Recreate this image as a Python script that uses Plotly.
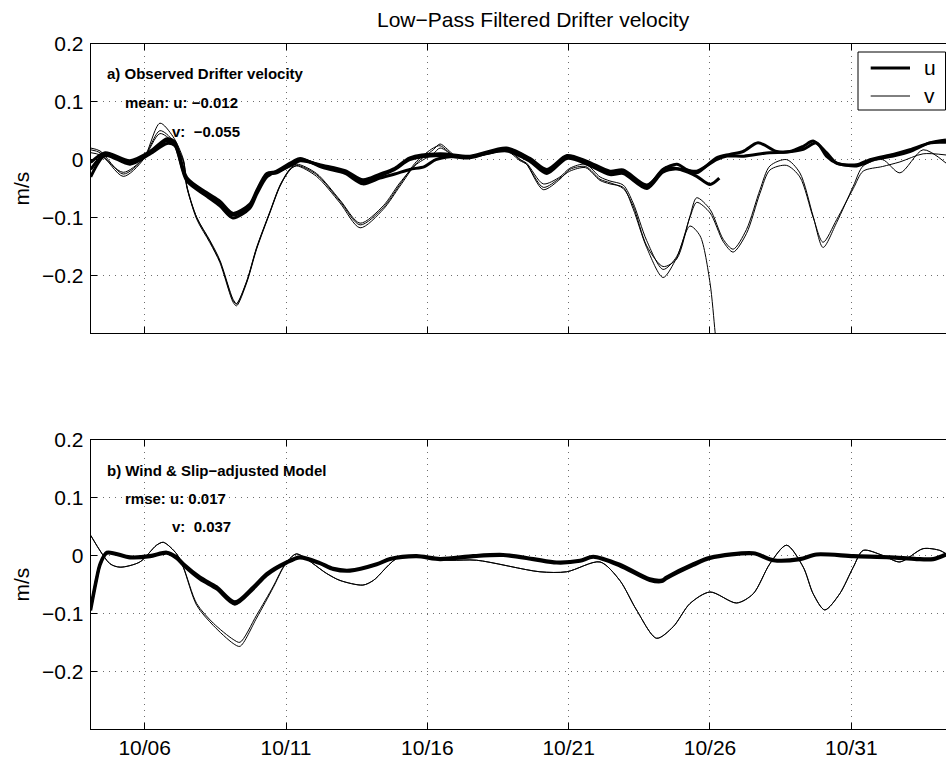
import pandas as pd
import plotly.graph_objects as go

# ---------------- data (day of October, velocity m/s) ----------------
# Panel a) observed drifters (three drifters, C stops on 10/26)
obs_uA_day = [4.09, 4.6, 5.48, 6.19, 6.79, 7.07, 7.49, 8.19, 8.66, 9.12, 9.72, 9.96, 10.32, 10.67, 11.26, 11.5,
              12.31, 13.09, 13.72, 14.32, 14.85, 15.38, 16.45, 17.51, 18.8, 19.63, 20.23, 20.94, 21.65, 22.46,
              22.93, 23.77, 24.33, 24.83, 25.2, 25.53, 26.23, 26.7, 27.17, 27.7, 28.36, 28.83, 29.3, 29.65,
              30.12, 30.48, 31.19, 31.66, 32.48, 33.07, 33.78, 34.35]
obs_uA = [-0.017, 0.009, -0.005, 0.012, 0.033, 0.026, -0.034, -0.06, -0.075, -0.096, -0.08, -0.057, -0.026, -0.023,
          -0.006, 0.0, -0.012, -0.021, -0.038, -0.028, -0.017, 0.0, 0.007, 0.003, 0.019, 0.0, -0.02, 0.005, -0.005,
          -0.022, -0.02, -0.046, -0.017, -0.008, -0.018, -0.023, 0.003, 0.009, 0.014, 0.029, 0.014, 0.014, 0.023,
          0.032, 0.012, -0.006, -0.009, 0.0, 0.009, 0.017, 0.029, 0.034]

obs_uB_day = [4.09, 4.6, 5.48, 6.19, 6.79, 7.07, 7.49, 8.19, 8.66, 9.12, 9.72, 9.96, 10.32, 10.67, 11.26, 11.5,
              12.31, 13.09, 13.72, 14.32, 14.85, 15.38, 15.9, 16.3, 16.8, 17.51, 18.8, 19.63, 20.23, 20.94, 21.65,
              22.46, 22.93, 23.77, 24.33, 24.83, 25.53, 26.23, 26.6, 27.2, 28.1, 28.7, 29.3, 29.77, 30.12, 30.48,
              31.19, 31.8, 32.48, 33.07, 33.78, 34.35]
obs_uB = [-0.03, 0.007, -0.008, 0.01, 0.028, 0.024, -0.037, -0.063, -0.08, -0.101, -0.084, -0.06, -0.03, -0.02,
          -0.003, 0.002, -0.014, -0.024, -0.042, -0.032, -0.025, -0.017, -0.012, 0.0, 0.005, 0.005, 0.015, -0.003,
          -0.024, 0.002, -0.008, -0.026, -0.024, -0.05, -0.022, -0.016, -0.02, 0.0, 0.006, 0.006, 0.012, 0.013,
          0.018, 0.029, 0.006, -0.006, -0.011, 0.0, 0.006, 0.014, 0.029, 0.03]

obs_uC_day = [4.09, 4.6, 5.48, 6.19, 6.79, 7.07, 7.49, 8.19, 8.66, 9.12, 9.72, 9.96, 10.32, 10.67, 11.26, 11.5,
              12.31, 13.09, 13.72, 14.32, 14.85, 15.38, 16.45, 17.51, 18.8, 19.63, 20.23, 20.94, 21.65, 22.46,
              22.93, 23.77, 24.46, 25.0, 25.53, 26.0, 26.33]
obs_uC = [-0.005, 0.012, -0.002, 0.014, 0.036, 0.03, -0.031, -0.057, -0.072, -0.093, -0.077, -0.054, -0.024,
          -0.021, -0.008, -0.002, -0.01, -0.019, -0.035, -0.025, -0.015, 0.003, 0.01, 0.006, 0.02, 0.002, -0.017,
          0.007, -0.003, -0.02, -0.018, -0.044, -0.014, -0.018, -0.029, -0.043, -0.032]

obs_v_day = [4.09, 4.42, 5.24, 5.95, 6.54, 7.0, 7.37, 7.49, 7.84, 8.31, 8.66, 9.13, 9.25, 9.61, 9.96, 10.43,
             10.79, 11.14, 11.38, 12.08, 12.91, 13.62, 14.44, 15.03, 15.62, 16.21, 16.45, 17.04, 18.21, 18.81,
             19.28, 19.51, 20.10, 20.69, 21.04, 21.6, 22.11, 22.46, 22.93, 23.28, 23.76, 24.34, 24.82, 25.29,
             25.53, 26.0, 26.47, 26.82, 27.29, 27.77, 28.12, 28.71, 29.18, 29.65, 30.0, 30.48, 31.07, 31.42,
             32.1, 32.72, 33.54, 34.35]
obs_vA = [0.017, 0.012, -0.029, 0.0, 0.063, 0.04, 0.0, -0.046, -0.103, -0.144, -0.178, -0.247, -0.253, -0.213,
          -0.155, -0.092, -0.046, -0.017, -0.011, -0.029, -0.075, -0.118, -0.086, -0.046, -0.006, 0.017, 0.027,
          0.006, 0.012, 0.02, 0.0, -0.008, -0.052, -0.034, -0.017, -0.012, -0.034, -0.04, -0.05, -0.08, -0.149,
          -0.185, -0.172, -0.098, -0.066, -0.086, -0.138, -0.155, -0.121, -0.052, -0.011, 0.0, -0.023, -0.098,
          -0.152, -0.109, -0.046, -0.011, 0.0, -0.023, 0.017, -0.006]
obs_vB = [0.012, 0.008, -0.022, 0.002, 0.05, 0.033, -0.004, -0.048, -0.1, -0.14, -0.174, -0.242, -0.249, -0.21,
          -0.152, -0.09, -0.044, -0.016, -0.008, -0.024, -0.07, -0.11, -0.08, -0.04, -0.008, 0.01, 0.02, 0.005,
          0.01, 0.017, 0.0, -0.006, -0.042, -0.03, -0.015, -0.008, -0.03, -0.037, -0.044, -0.075, -0.14, -0.19,
          -0.168, -0.1, -0.074, -0.092, -0.142, -0.16, -0.128, -0.058, -0.018, -0.01, -0.03, -0.1, -0.143,
          -0.104, -0.05, -0.02, -0.012, -0.004, 0.01, 0.008]

obs_vC_day = [4.09, 4.42, 5.24, 5.95, 6.54, 7.0, 7.37, 7.49, 7.84, 8.31, 8.66, 9.13, 9.25, 9.61, 9.96, 10.43,
              10.79, 11.14, 11.38, 12.08, 12.91, 13.62, 14.44, 15.03, 15.62, 16.21, 16.45, 17.04, 18.21, 18.81,
              19.28, 19.51, 20.10, 20.69, 21.04, 21.6, 22.11, 22.46, 22.93, 23.28, 23.76, 24.34, 24.82, 25.29,
              25.65, 26.0, 26.18, 26.25]
obs_vC = [0.02, 0.015, -0.025, 0.001, 0.045, 0.03, -0.002, -0.045, -0.1, -0.142, -0.176, -0.244, -0.25, -0.211,
          -0.153, -0.091, -0.045, -0.018, -0.01, -0.026, -0.072, -0.113, -0.083, -0.043, -0.003, 0.02, 0.024,
          0.004, 0.011, 0.015, -0.002, -0.008, -0.048, -0.032, -0.02, -0.014, -0.036, -0.042, -0.048, -0.085,
          -0.152, -0.204, -0.17, -0.115, -0.132, -0.213, -0.298, -0.33]

# Panel b) wind & slip-adjusted model
mod_u_day = [4.09, 4.30, 4.42, 4.66, 5.48, 6.19, 6.78, 7.13, 7.37, 7.96, 8.55, 9.19, 9.84, 10.32, 11.02, 11.49,
             12.2, 12.67, 13.26, 14.21, 14.68, 15.62, 16.45, 17.62, 18.68, 19.75, 20.57, 21.40, 21.87, 22.81,
             23.87, 24.3, 24.46, 25.41, 26.0, 27.53, 28.24, 29.18, 29.77, 31.07, 32.37, 33.31, 33.9, 34.35]
mod_uA = [-0.089, -0.037, -0.014, 0.006, -0.002, 0.0, 0.006, -0.002, -0.014, -0.037, -0.054, -0.08, -0.054,
          -0.031, -0.011, -0.002, -0.012, -0.022, -0.025, -0.014, -0.005, 0.0, -0.005, 0.0, 0.002, -0.005,
          -0.011, -0.008, -0.001, -0.015, -0.04, -0.042, -0.037, -0.014, -0.003, 0.005, -0.007, -0.005, 0.003,
          0.0, -0.002, -0.005, -0.005, 0.003]
mod_uB = [-0.095, -0.042, -0.017, 0.004, -0.004, -0.002, 0.004, -0.005, -0.017, -0.041, -0.058, -0.084, -0.058,
          -0.034, -0.013, -0.004, -0.014, -0.024, -0.027, -0.016, -0.007, -0.002, -0.007, -0.002, 0.0, -0.007,
          -0.013, -0.01, -0.003, -0.018, -0.043, -0.045, -0.04, -0.017, -0.005, 0.003, -0.009, -0.007, 0.001,
          -0.002, -0.004, -0.007, -0.007, 0.001]

mod_v_day = [4.09, 4.77, 5.13, 5.83, 6.42, 6.66, 7.13, 7.37, 7.84, 8.43, 9.13, 9.37, 9.96, 10.55, 10.90, 11.14,
             11.38, 12.44, 12.91, 13.72, 14.09, 15.03, 16.80, 17.74, 19.98, 20.93, 22.11, 22.81, 23.40, 24.11,
             24.70, 25.29, 26.0, 26.94, 27.53, 28.12, 28.71, 29.30, 29.65, 30.06, 30.59, 31.07, 31.42, 32.13,
             32.72, 33.54, 34.13, 34.35]
mod_vA = [0.035, -0.014, -0.02, -0.011, 0.018, 0.023, 0.003, -0.02, -0.083, -0.117, -0.145, -0.15, -0.103, -0.053,
          -0.02, -0.005, 0.003, -0.031, -0.043, -0.051, -0.043, -0.002, -0.008, -0.008, -0.028, -0.028, -0.011,
          -0.043, -0.094, -0.143, -0.123, -0.083, -0.063, -0.082, -0.066, -0.014, 0.018, -0.02, -0.066, -0.094,
          -0.066, -0.02, 0.009, 0.0, -0.011, 0.012, 0.009, 0.003]
mod_vB = [0.035, -0.014, -0.02, -0.011, 0.018, 0.023, 0.003, -0.021, -0.086, -0.121, -0.152, -0.157, -0.108,
          -0.055, -0.021, -0.005, 0.003, -0.031, -0.043, -0.051, -0.043, -0.002, -0.008, -0.008, -0.028, -0.028,
          -0.011, -0.043, -0.094, -0.143, -0.123, -0.083, -0.063, -0.082, -0.066, -0.014, 0.018, -0.02, -0.066,
          -0.094, -0.066, -0.02, 0.009, 0.0, -0.011, 0.012, 0.009, 0.003]

x_range_days = [4.09, 34.35]
x_tick_days = [6, 11, 16, 21, 26, 31]
y_ticks = [-0.2, -0.1, 0.0, 0.1, 0.2]
y_tick_text = ["\u22120.2", "\u22120.1", "0", "0.1", "0.2"]
y_range = [-0.3, 0.2]
legend_labels = ["u", "v"]

# ---------------- helpers ----------------
BASE = pd.Timestamp("2004-09-30")


def to_dt(days):
    return [BASE + pd.Timedelta(days=d) for d in days]


W, H = 946, 763


def px(x):
    return x / W


def py(y):
    return 1 - y / H


FONT = "Liberation Sans, Helvetica, Arial, sans-serif"
THICK, THIN = 3, 1
TICKSIZE = 21

fig = go.Figure()


def add_line(days, vals, width, xa, ya, name=None):
    fig.add_trace(go.Scatter(
        x=to_dt(days), y=vals, mode="lines", xaxis=xa, yaxis=ya,
        line=dict(color="black", width=width, shape="spline", smoothing=0.8),
        name=name, showlegend=False, hoverinfo="skip"))


# Panel a
add_line(obs_v_day, obs_vA, THIN, "x", "y", "v")
add_line(obs_v_day, obs_vB, THIN, "x", "y", "v")
add_line(obs_vC_day, obs_vC, THIN, "x", "y", "v")
add_line(obs_uA_day, obs_uA, THICK, "x", "y", "u")
add_line(obs_uB_day, obs_uB, THICK, "x", "y", "u")
add_line(obs_uC_day, obs_uC, THICK, "x", "y", "u")
# Panel b
add_line(mod_v_day, mod_vA, THIN, "x2", "y2", "v")
add_line(mod_v_day, mod_vB, THIN, "x2", "y2", "v")
add_line(mod_u_day, mod_uA, THICK, "x2", "y2", "u")
add_line(mod_u_day, mod_uB, THICK, "x2", "y2", "u")

xdom = [px(90.7), 1.0]
ydom_top = [py(333), py(44)]
ydom_bot = [py(729), py(440)]

common_x = dict(
    range=to_dt(x_range_days), tickvals=to_dt(x_tick_days), tickformat="%m/%d",
    showgrid=True, gridcolor="#6e6e6e", griddash="1px,5px", gridwidth=1,
    showline=True, linecolor="black", linewidth=1, mirror="ticks",
    ticks="inside", ticklen=6, tickcolor="black", zeroline=False,
    tickfont=dict(family=FONT, size=TICKSIZE, color="black"), domain=xdom,
)
common_y = dict(
    range=y_range, tickvals=y_ticks, ticktext=y_tick_text,
    showgrid=True, gridcolor="#6e6e6e", griddash="1px,5px", gridwidth=1,
    showline=True, linecolor="black", linewidth=1, mirror=False,
    ticks="inside", ticklen=6, tickcolor="black", zeroline=False,
    tickfont=dict(family=FONT, size=TICKSIZE, color="black"), ticklabelstandoff=2,
)

annots = [
    dict(text="Low\u2212Pass Filtered Drifter velocity", x=px(692), y=py(19), size=21, bold=False, anchor="right"),
    dict(text="a) Observed Drifter velocity", x=px(105), y=py(74), size=15, bold=True, anchor="left"),
    dict(text="mean: u: \u22120.012", x=px(122.7), y=py(102.7), size=15, bold=True, anchor="left"),
    dict(text="v:\u00a0\u00a0\u22120.055", x=px(170), y=py(131.7), size=15, bold=True, anchor="left"),
    dict(text="b) Wind &amp; Slip\u2212adjusted Model", x=px(105), y=py(470), size=15, bold=True, anchor="left"),
    dict(text="rmse: u: 0.017", x=px(122.7), y=py(498.3), size=15, bold=True, anchor="left"),
    dict(text="v:\u00a0\u00a00.037", x=px(170), y=py(526.7), size=15, bold=True, anchor="left"),
]
annotations = []
for a in annots:
    t = f"<b>{a['text']}</b>" if a["bold"] else a["text"]
    annotations.append(dict(text=t, x=a["x"], y=a["y"], xref="paper", yref="paper",
                            xanchor=a["anchor"], yanchor="middle", showarrow=False,
                            font=dict(family=FONT, size=a["size"], color="black")))
for yc in (188.5, 584.5):
    annotations.append(dict(text="m/s", x=px(21), y=py(yc), xref="paper", yref="paper",
                            xanchor="center", yanchor="middle", textangle=-90, showarrow=False,
                            font=dict(family=FONT, size=TICKSIZE, color="black")))

# legend box (MATLAB style, clipped by the right edge of the figure)
shapes = [dict(type="rect", xref="paper", yref="paper", x0=px(858), x1=px(945.5), y0=py(110), y1=py(52),
               line=dict(color="black", width=1), fillcolor="white", layer="above")]
for label, yc, lw in zip(legend_labels, (68, 96), (THICK, THIN)):
    shapes.append(dict(type="line", xref="paper", yref="paper", x0=px(870.7), x1=px(910), y0=py(yc), y1=py(yc),
                       line=dict(color="black", width=lw), layer="above"))
    annotations.append(dict(text=label, x=px(922), y=py(yc - 1), xref="paper", yref="paper",
                            xanchor="left", yanchor="middle", showarrow=False,
                            font=dict(family=FONT, size=TICKSIZE, color="black")))

fig.update_layout(
    width=W, height=H,
    margin=dict(l=0, r=0, t=0, b=0, pad=0, autoexpand=False),
    paper_bgcolor="white", plot_bgcolor="white",
    xaxis=dict(**common_x, anchor="y", showticklabels=False),
    yaxis=dict(**common_y, anchor="x", domain=ydom_top),
    xaxis2=dict(**common_x, anchor="y2", showticklabels=True),
    yaxis2=dict(**common_y, anchor="x2", domain=ydom_bot),
    showlegend=False,
    shapes=shapes,
    annotations=annotations,
)

fig.write_html(
    "out.html",
    config={"displayModeBar": False},
    post_script="document.body.style.margin='0';document.body.style.padding='0';"
                "document.body.style.overflow='hidden';",
)
